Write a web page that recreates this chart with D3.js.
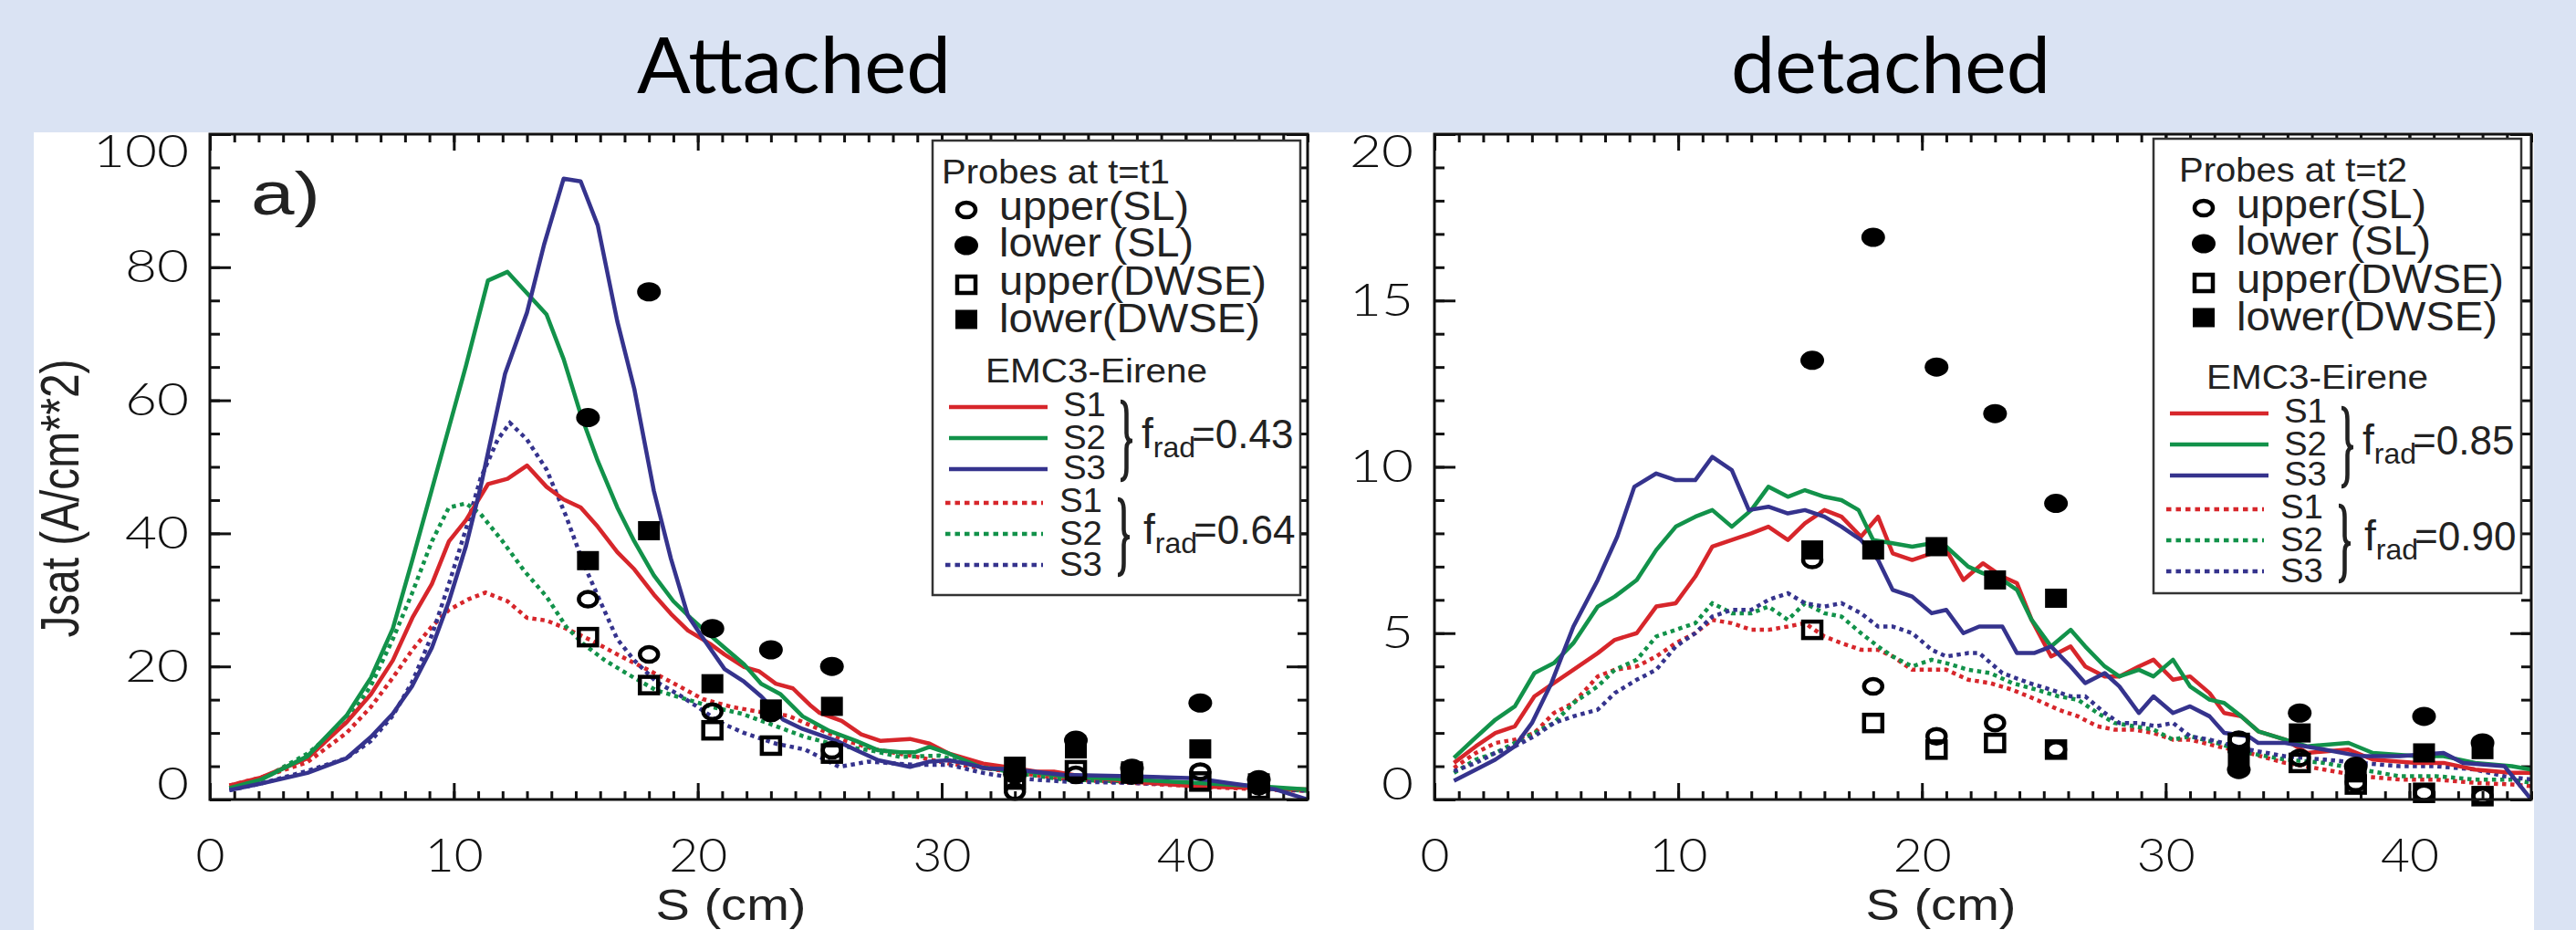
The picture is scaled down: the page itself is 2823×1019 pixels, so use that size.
<!DOCTYPE html>
<html>
<head>
<meta charset="utf-8">
<script src="https://d3js.org/d3.v7.min.js"></script>
<style>
body { margin: 0; background: #dae3f3; }
svg { display: block; }
</style>
</head>
<body>
<svg id="chart" width="2823" height="1019"></svg>
<script>
// ---------- data (S in cm, Jsat in A/cm^2) ----------
const probeS = [15.5, 18.0, 20.6, 23.0, 25.5, 33.0, 35.5, 37.8, 40.6, 43.0];

// attached, probes at t=t1
const attUpperSL   = [30.1, 21.8, 13.2, 13.0, 7.4, 1.2, 3.7, 3.6, 4.2, 2.0];
const attLowerSL   = [57.4, 76.3, 25.7, 22.5, 20.0, 3.8, 8.9, 4.7, 14.5, 3.0];
const attUpperDWSE = [24.4, 17.2, 10.4, 8.1, 6.9, 3.0, 4.4, 3.9, 2.7, 1.5];
const attLowerDWSE = [35.9, 40.4, 17.4, 13.6, 14.0, 5.0, 7.6, 4.3, 7.6, 2.5];

// detached, probes at t=t2
const detUpperSL   = [7.2, 3.4, 1.9, 2.3, 1.5, 1.8, 1.25, 0.5, 0.2, 0.1];
const detLowerSL   = [13.2, 16.9, 13.0, 11.6, 8.9, 0.9, 2.6, 1.0, 2.5, 1.7];
const detUpperDWSE = [5.1, 2.3, 1.5, 1.7, 1.5, 1.7, 1.1, 0.45, 0.2, 0.1];
const detLowerDWSE = [7.5, 7.5, 7.6, 6.6, 6.05, 1.3, 2.0, 0.8, 1.4, 1.5];

// EMC3-Eirene, attached: solid f_rad=0.43, dotted f_rad=0.64
const attS1 = [[0.8,2.1],[2.1,3.3],[4.0,6.2],[5.6,11.6],[6.6,15.8],[7.5,20.9],[8.3,27.3],[9.1,32.4],[9.8,38.8],[10.5,42],[11.4,47.4],[12.2,48.2],[13.0,50.2],[13.8,47],[14.5,45.1],[15.2,43.9],[15.9,41],[16.7,37.2],[17.4,34.6],[18.2,30.8],[18.9,27.9],[19.6,25.4],[20.5,23.4],[21.1,21.8],[21.9,19.9],[22.5,19.3],[23.2,17.4],[23.9,16.7],[24.6,14.2],[25.0,13.0],[25.9,11.8],[26.7,9.8],[27.5,8.8],[28.7,9.1],[29.5,8.4],[30.3,6.9],[31.7,5.4],[33.0,4.7],[33.9,4.2],[34.6,4.2],[35.7,3.5],[37.7,2.7],[40.4,2.0],[43.0,1.7],[45.0,1.5]];
const attS2 = [[0.8,1.7],[2.1,3.0],[4.0,6.5],[5.6,12.6],[6.6,18.3],[7.5,25.7],[8.3,36],[9.1,46.6],[9.8,55.9],[10.5,65.2],[11.4,78],[12.2,79.3],[13.0,76.1],[13.8,72.9],[14.5,66.2],[15.2,57.9],[15.9,50.9],[16.7,43.9],[17.4,38.8],[18.2,33.7],[19.0,29.8],[19.7,27.3],[20.5,24.7],[21.1,22.8],[21.9,20.3],[22.6,17.4],[23.4,15.8],[24.3,12.5],[25.4,10.3],[26.5,8.8],[27.4,7.4],[28.3,7.1],[28.9,7.1],[29.5,7.9],[30.3,6.9],[31.7,4.7],[33.0,4.5],[35.0,3.5],[37.7,3.0],[40.4,2.5],[43.0,2.0],[45.0,1.5]];
const attS3 = [[0.8,1.4],[2.1,2.4],[4.0,4.0],[5.6,6.2],[6.6,9.4],[7.5,12.9],[8.3,17.1],[9.1,22.8],[9.8,29.8],[10.5,38.1],[11.1,47],[12.1,64],[13.0,73.2],[13.7,83.4],[14.5,93.3],[15.2,92.9],[15.9,86.3],[16.7,71.9],[17.4,61.7],[18.2,46.4],[18.9,36.2],[19.6,27.6],[20.3,23.8],[21.1,19.6],[21.9,17.7],[22.6,15.5],[23.5,12.0],[24.3,10.6],[25.7,8.8],[26.5,7.4],[27.4,5.9],[28.7,4.9],[29.5,5.7],[30.3,5.9],[31.0,5.4],[31.8,4.7],[33.0,4.5],[35.0,3.7],[37.7,3.5],[40.4,3.2],[41.7,2.5],[43.7,1.5],[45.0,0]];
const attD1 = [[0.8,2.1],[2.1,3.3],[4.0,5.6],[5.6,10.0],[6.6,13.9],[7.5,18.3],[8.3,22.5],[9.1,26],[9.8,28.5],[10.6,30.1],[11.3,31.1],[12.2,29.8],[13.0,27.3],[13.8,26.9],[14.6,25.7],[15.7,23.8],[16.7,21.8],[17.9,19.6],[19.2,17.1],[20.2,15.1],[21.4,13.9],[22.5,13.2],[23.7,12.6],[24.9,10.7],[26.1,8.8],[27.2,7.6],[29.0,6.4],[30.3,5.4],[33.0,4.1],[35.0,3.1],[37.7,2.5],[40.4,2.0],[43.0,1.5],[45.0,1.3]];
const attD2 = [[0.8,1.7],[2.1,3.0],[4.0,6.9],[5.6,11.6],[6.6,17.1],[7.5,24.1],[8.3,31.1],[9.1,38.8],[9.8,43.9],[10.5,44.5],[11.1,42.9],[12.0,38.8],[12.9,34.3],[13.8,30.5],[14.6,26],[15.3,23.4],[16.2,20.9],[17.2,18.7],[18.3,16.4],[19.5,15.1],[20.6,13.9],[21.8,12.9],[23.0,11.3],[24.4,9.4],[25.8,8.1],[27.2,7.3],[28.3,6.4],[29.9,6.6],[31.0,5.4],[33.0,4.0],[35.0,3.0],[37.7,2.7],[40.4,2.2],[43.0,1.7],[45.0,1.3]];
const attD3 = [[0.8,1.4],[2.1,2.4],[4.0,4.3],[5.6,6.2],[6.6,8.8],[7.5,12.6],[8.3,17.7],[9.1,24.7],[9.8,32.4],[10.5,40.7],[11.1,48.3],[11.8,54.1],[12.3,56.6],[13.0,54.1],[13.8,49.6],[14.6,42.6],[15.3,35.6],[16.0,29.8],[16.7,24.1],[17.4,20.9],[18.3,17.7],[19.2,15.8],[20.0,13.9],[20.9,11.6],[21.9,10.0],[23.2,8.4],[24.4,7.5],[25.8,4.9],[27.0,5.7],[28.9,5.2],[30.3,5.2],[31.7,4.0],[33.0,3.2],[35.0,2.7],[37.7,2.5],[40.4,2.2],[43.0,1.7],[45.0,1.3]];

// EMC3-Eirene, detached: solid f_rad=0.85, dotted f_rad=0.90
const detS1 = [[0.8,1.1],[1.7,1.6],[2.5,2.0],[3.3,2.2],[4.1,3.1],[4.9,3.5],[5.7,3.9],[6.7,4.4],[7.4,4.8],[8.3,5.0],[9.1,5.8],[9.9,5.9],[10.7,6.7],[11.4,7.6],[12.2,7.8],[13.0,8.0],[13.7,8.2],[14.5,7.8],[15.2,8.3],[16.0,8.7],[16.7,8.5],[17.5,7.9],[18.2,8.5],[18.8,7.4],[19.6,7.2],[20.4,7.4],[21.0,7.5],[21.7,6.6],[22.5,7.1],[23.3,6.7],[23.9,6.5],[24.5,5.4],[25.3,4.3],[26.1,4.6],[26.7,4.0],[27.5,3.7],[28.1,3.7],[28.9,4.0],[29.5,4.2],[30.3,3.6],[31.0,3.7],[31.8,3.2],[32.4,2.6],[33.1,2.5],[33.8,2.05],[34.9,1.8],[35.8,1.4],[37.5,1.5],[38.5,1.2],[40.3,1.1],[41.4,1.1],[42.7,0.9],[44.2,0.8],[45.0,0.8]];
const detS2 = [[0.8,1.25],[1.6,1.8],[2.5,2.4],[3.3,2.8],[4.1,3.8],[4.9,4.1],[5.7,4.7],[6.7,5.8],[7.4,6.1],[8.3,6.6],[9.1,7.5],[9.9,8.2],[10.7,8.5],[11.4,8.7],[12.2,8.2],[13.0,8.7],[13.7,9.4],[14.5,9.1],[15.2,9.3],[16.0,9.1],[16.7,9.0],[17.4,8.7],[18.0,7.8],[18.8,7.7],[19.6,7.6],[20.4,7.7],[21.0,7.6],[21.9,7.0],[22.5,6.8],[23.3,6.6],[23.9,6.3],[24.5,5.4],[25.3,4.6],[26.1,5.1],[26.7,4.6],[27.5,4.0],[28.1,3.7],[28.9,3.9],[29.5,3.7],[30.3,4.2],[31.0,3.4],[31.8,3.0],[32.4,2.9],[33.1,2.5],[33.8,2.05],[34.9,1.8],[35.8,1.6],[37.5,1.7],[38.5,1.4],[40.3,1.3],[41.4,1.3],[42.7,1.1],[44.2,1.0],[45.0,0.9]];
const detS3 = [[0.8,0.56],[1.7,0.9],[2.5,1.2],[3.3,1.6],[4.0,2.3],[4.8,3.5],[5.7,5.2],[6.7,6.6],[7.5,7.9],[8.2,9.4],[9.1,9.8],[9.9,9.6],[10.7,9.6],[11.4,10.3],[12.2,9.9],[12.9,8.7],[13.7,8.8],[14.5,8.6],[15.2,8.7],[16.0,8.5],[16.7,8.2],[17.5,7.8],[18.2,7.2],[18.8,6.3],[19.6,6.1],[20.4,5.6],[21.0,5.7],[21.7,5.0],[22.35,5.2],[23.3,5.2],[23.9,4.4],[24.6,4.4],[25.3,4.6],[26.1,4.0],[26.7,3.5],[27.5,3.8],[28.1,3.4],[28.9,2.6],[29.5,3.1],[30.3,2.6],[31.0,2.8],[31.8,2.5],[32.4,2.0],[33.4,1.9],[33.8,1.7],[34.9,1.7],[36.5,1.5],[38.0,1.3],[39.6,1.3],[41.4,1.4],[42.2,1.1],[43.9,1.0],[45.0,0]];
const detD1 = [[0.8,0.95],[1.7,1.4],[2.5,1.7],[3.3,1.8],[4.1,2.0],[4.9,2.6],[5.7,2.9],[6.7,3.7],[7.4,3.9],[8.3,4.0],[9.1,4.3],[9.9,4.7],[10.7,5.0],[11.4,5.4],[12.2,5.3],[13.0,5.1],[13.7,5.1],[14.5,5.2],[15.2,5.3],[16.0,4.9],[16.7,4.7],[17.5,4.5],[18.2,4.5],[18.8,4.3],[19.6,3.9],[20.4,3.9],[21.0,3.9],[21.9,3.6],[22.8,3.5],[23.7,3.3],[24.7,3.0],[25.6,2.7],[26.4,2.5],[27.2,2.2],[27.9,2.1],[28.7,2.1],[29.5,2.0],[30.3,1.8],[31.0,1.8],[32.1,1.6],[33.4,1.4],[34.9,1.1],[36.5,0.9],[38.0,0.7],[39.6,0.6],[41.1,0.6],[42.7,0.5],[44.2,0.45],[45.0,0.4]];
const detD2 = [[0.8,0.8],[1.7,1.2],[2.5,1.4],[3.3,1.7],[4.1,2.0],[4.9,2.3],[5.7,2.9],[6.7,3.4],[7.4,3.9],[8.3,4.2],[9.1,4.9],[9.9,5.1],[10.7,5.3],[11.4,5.9],[12.2,5.6],[13.0,5.6],[13.7,5.8],[14.5,5.4],[15.2,5.9],[16.0,5.6],[16.7,5.5],[17.5,5.0],[18.2,4.6],[18.8,4.3],[19.6,4.0],[20.4,4.2],[21.0,4.1],[21.9,3.9],[22.8,3.8],[23.7,3.5],[24.7,3.3],[25.6,3.1],[26.4,3.0],[27.2,2.6],[27.9,2.3],[28.7,2.2],[29.5,2.1],[30.3,1.8],[31.0,1.9],[32.1,1.7],[33.4,1.4],[34.9,1.2],[36.5,1.1],[38.0,0.9],[39.6,0.7],[41.1,0.7],[42.7,0.6],[44.2,0.6],[45.0,0.5]];
const detD3 = [[0.8,0.85],[1.7,1.1],[2.5,1.4],[3.3,1.6],[4.1,1.9],[4.9,2.3],[5.7,2.5],[6.7,2.7],[7.4,3.2],[8.3,3.6],[9.1,3.9],[9.9,4.6],[10.7,5.0],[11.4,5.5],[12.2,5.7],[13.0,5.7],[13.7,6.0],[14.5,6.2],[15.2,5.9],[16.0,5.8],[16.7,5.9],[17.5,5.6],[18.2,5.2],[18.8,5.2],[19.6,5.0],[20.4,4.5],[21.0,4.3],[21.9,4.4],[22.35,4.4],[23.3,3.8],[24.4,3.5],[25.3,3.3],[26.1,3.1],[26.7,3.1],[27.5,2.6],[28.1,2.3],[28.9,2.3],[29.6,2.2],[30.3,2.3],[31.0,1.9],[31.8,1.8],[33.4,1.5],[34.9,1.3],[36.5,1.2],[38.0,1.1],[39.6,1.0],[41.1,1.0],[42.7,0.9],[43.9,0.7],[45.0,0.6]];

const xTicks = [0, 10, 20, 30, 40];
const attYTicks = [0, 20, 40, 60, 80, 100];
const detYTicks = [0, 5, 10, 15, 20];

// ---------- drawing ----------
const colors = { S1: "#d7262b", S2: "#12924a", S3: "#35338d" };
const tickFont = "Lato, 'DejaVu Sans', sans-serif";
const textFont = "'Liberation Sans', Arial, sans-serif";

const svg = d3.select("#chart");

svg.append("rect").attr("x", 37).attr("y", 145).attr("width", 2740).attr("height", 874).attr("fill", "#fff");

// titles
svg.append("text").text("Attached").attr("x", 870).attr("y", 102)
  .attr("text-anchor", "middle").attr("font-family", "Lato, 'Open Sans', sans-serif")
  .attr("font-size", 86).attr("textLength", 344).attr("lengthAdjust", "spacingAndGlyphs");
svg.append("text").text("detached").attr("x", 2072).attr("y", 102)
  .attr("text-anchor", "middle").attr("font-family", "Lato, 'Open Sans', sans-serif")
  .attr("font-size", 86).attr("textLength", 350).attr("lengthAdjust", "spacingAndGlyphs");

const panels = [
  { id: "att", left: 230, right: 1433, top: 147, bottom: 876, ymax: 100, yTicks: attYTicks, yMinor: 5,
    solid: [attS1, attS2, attS3], dotted: [attD1, attD2, attD3],
    probes: { upperSL: attUpperSL, lowerSL: attLowerSL, upperDWSE: attUpperDWSE, lowerDWSE: attLowerDWSE },
    legend: { bx: 1022, by: 154, title: "Probes at t=t1", f1: "0.43", f2: "0.64", sh: 0, vs: 0 },
    xlabX: 801 },
  { id: "det", left: 1572, right: 2774, top: 147, bottom: 876, ymax: 20, yTicks: detYTicks, yMinor: 1,
    solid: [detS1, detS2, detS3], dotted: [detD1, detD2, detD3],
    probes: { upperSL: detUpperSL, lowerSL: detLowerSL, upperDWSE: detUpperDWSE, lowerDWSE: detLowerDWSE },
    legend: { bx: 2360, by: 152, title: "Probes at t=t2", f1: "0.85", f2: "0.90", sh: 18, vs: 9 },
    xlabX: 2127 }
];

function drawMarker(g, type, cx, cy) {
  if (type === "upperSL") {
    g.append("ellipse").attr("cx", cx).attr("cy", cy).attr("rx", 10).attr("ry", 8)
      .attr("fill", "none").attr("stroke", "#000").attr("stroke-width", 4.5);
  } else if (type === "lowerSL") {
    g.append("ellipse").attr("cx", cx).attr("cy", cy).attr("rx", 13).attr("ry", 10.5).attr("fill", "#000");
  } else if (type === "upperDWSE") {
    g.append("rect").attr("x", cx - 10).attr("y", cy - 9).attr("width", 20).attr("height", 18)
      .attr("fill", "none").attr("stroke", "#000").attr("stroke-width", 4.5);
  } else {
    g.append("rect").attr("x", cx - 12).attr("y", cy - 10.5).attr("width", 24).attr("height", 21).attr("fill", "#000");
  }
}

function brace(x, y0, y1, w) {
  const h = y1 - y0, m = (y0 + y1) / 2, xm = x + w / 2;
  return `M${x},${y0} Q${xm},${y0} ${xm},${y0 + h * 0.15} L${xm},${m - h * 0.1} Q${xm},${m} ${x + w},${m}` +
         ` Q${xm},${m} ${xm},${m + h * 0.1} L${xm},${y1 - h * 0.15} Q${xm},${y1} ${x},${y1}`;
}

panels.forEach(p => {
  const x = d3.scaleLinear().domain([0, 45]).range([p.left, p.right]);
  const y = d3.scaleLinear().domain([0, p.ymax]).range([p.bottom, p.top]);
  const g = svg.append("g");

  g.append("clipPath").attr("id", "clip-" + p.id).append("rect")
    .attr("x", p.left).attr("y", p.top).attr("width", p.right - p.left).attr("height", p.bottom - p.top);

  // axes: inward ticks on all four sides
  const styleAxis = sel => {
    sel.select(".domain").remove();
    sel.selectAll(".tick line").attr("stroke", "#111").attr("stroke-width", 3);
  };
  const yMax = p.ymax;
  g.append("g").attr("transform", `translate(0,${p.bottom})`)
    .call(d3.axisBottom(x).tickValues(d3.range(0, 46, 1)).tickSize(-9).tickFormat("")).call(styleAxis);
  g.append("g").attr("transform", `translate(0,${p.bottom})`)
    .call(d3.axisBottom(x).tickValues(xTicks).tickSize(-18).tickPadding(42).tickFormat(d3.format("d")))
    .call(styleAxis)
    .call(a => a.selectAll("text").attr("font-family", tickFont).attr("font-weight", 300)
      .attr("font-size", 52).attr("fill", "#111")
      .attr("textLength", d => String(d).length * 32).attr("lengthAdjust", "spacingAndGlyphs"));
  g.append("g").attr("transform", `translate(0,${p.top})`)
    .call(d3.axisTop(x).tickValues(d3.range(0, 46, 1)).tickSize(-9).tickFormat("")).call(styleAxis);
  g.append("g").attr("transform", `translate(0,${p.top})`)
    .call(d3.axisTop(x).tickValues(xTicks).tickSize(-18).tickFormat("")).call(styleAxis);

  g.append("g").attr("transform", `translate(${p.left},0)`)
    .call(d3.axisLeft(y).tickValues(d3.range(0, yMax + 0.1, p.yMinor)).tickSize(-11).tickFormat("")).call(styleAxis);
  g.append("g").attr("transform", `translate(${p.left},0)`)
    .call(d3.axisLeft(y).tickValues(p.yTicks).tickSize(-23).tickPadding(23).tickFormat(d3.format("d")))
    .call(styleAxis)
    .call(a => a.selectAll("text").attr("font-family", tickFont).attr("font-weight", 300)
      .attr("font-size", 50).attr("fill", "#111")
      .attr("textLength", d => String(d).length * 35).attr("lengthAdjust", "spacingAndGlyphs")
      .attr("transform", d => d === yMax ? "translate(0,19)" : d === 0 ? "translate(0,-17)" : null));
  g.append("g").attr("transform", `translate(${p.right},0)`)
    .call(d3.axisRight(y).tickValues(d3.range(0, yMax + 0.1, p.yMinor)).tickSize(-11).tickFormat("")).call(styleAxis);
  g.append("g").attr("transform", `translate(${p.right},0)`)
    .call(d3.axisRight(y).tickValues(p.yTicks).tickSize(-23).tickFormat("")).call(styleAxis);

  // model curves
  const line = d3.line().x(d => x(d[0])).y(d => y(d[1]));
  const lines = g.append("g").attr("clip-path", `url(#clip-${p.id})`);
  const keys = ["S1", "S2", "S3"];
  p.dotted.forEach((d, i) => {
    lines.append("path").attr("d", line(d)).attr("fill", "none").attr("stroke", colors[keys[i]])
      .attr("stroke-width", 4.5).attr("stroke-dasharray", "4.5,4.5");
  });
  p.solid.forEach((d, i) => {
    lines.append("path").attr("d", line(d)).attr("fill", "none").attr("stroke", colors[keys[i]])
      .attr("stroke-width", 4.5).attr("stroke-linejoin", "round");
  });

  // probe data
  const mk = g.append("g");
  ["upperDWSE", "upperSL", "lowerDWSE", "lowerSL"].forEach(type => {
    p.probes[type].forEach((v, i) => drawMarker(mk, type, x(probeS[i]), y(v)));
  });

  // frame
  g.append("rect").attr("x", p.left).attr("y", p.top).attr("width", p.right - p.left)
    .attr("height", p.bottom - p.top).attr("fill", "none").attr("stroke", "#111").attr("stroke-width", 3);

  // x axis title
  g.append("text").text("S (cm)").attr("x", p.xlabX).attr("y", 1008).attr("text-anchor", "middle")
    .attr("font-family", textFont).attr("font-size", 48).attr("fill", "#222")
    .attr("textLength", 165).attr("lengthAdjust", "spacingAndGlyphs");

  // legend
  const L = p.legend, bx = L.bx, by = L.by, sh = L.sh, vs = L.vs;
  const lg = g.append("g");
  lg.append("rect").attr("x", bx).attr("y", by).attr("width", 403).attr("height", 498)
    .attr("fill", "#fff").attr("stroke", "#333").attr("stroke-width", 2.5);
  const txt = (s, tx, ty, size, len) => {
    const t = lg.append("text").text(s).attr("x", tx).attr("y", ty)
      .attr("font-family", textFont).attr("font-size", size).attr("fill", "#222");
    if (len) t.attr("textLength", len).attr("lengthAdjust", "spacingAndGlyphs");
    return t;
  };
  txt(L.title, bx + 10 + sh, by + 47, 36, 250);
  const entries = [
    { type: "upperSL", label: "upper(SL)", my: 76, base: 87, len: 208 },
    { type: "lowerSL", label: "lower (SL)", my: 115, base: 127, len: 213 },
    { type: "upperDWSE", label: "upper(DWSE)", my: 158, base: 169, len: 293 },
    { type: "lowerDWSE", label: "lower(DWSE)", my: 196, base: 210, len: 286 }
  ];
  entries.forEach(e => {
    drawMarker(lg, e.type, bx + 37 + sh, by + e.my);
    txt(e.label, bx + 73 + sh, by + e.base, 44, e.len);
  });
  txt("EMC3-Eirene", bx + 58, by + 265 + vs, 36, 243);
  const solidY = [292, 326, 360], dotY = [397, 431, 465];
  const solidLab = [302, 338, 371], dotLab = [407, 443, 477];
  keys.forEach((k, i) => {
    lg.append("line").attr("x1", bx + 18).attr("x2", bx + 126).attr("y1", by + solidY[i] + vs).attr("y2", by + solidY[i] + vs)
      .attr("stroke", colors[k]).attr("stroke-width", 4.5);
    txt(k, bx + 143, by + solidLab[i] + vs, 36, 47);
    lg.append("line").attr("x1", bx + 14).attr("x2", bx + 121).attr("y1", by + dotY[i] + vs).attr("y2", by + dotY[i] + vs)
      .attr("stroke", colors[k]).attr("stroke-width", 4.5).attr("stroke-dasharray", "5.5,5");
    txt(k, bx + 139, by + dotLab[i] + vs, 36, 47);
  });
  lg.append("path").attr("d", brace(bx + 206, by + 286 + vs, by + 372 + vs, 13))
    .attr("fill", "none").attr("stroke", "#222").attr("stroke-width", 4.5);
  lg.append("path").attr("d", brace(bx + 203, by + 393 + vs, by + 476 + vs, 13))
    .attr("fill", "none").attr("stroke", "#222").attr("stroke-width", 4.5);
  [[L.f1, by + 337 + vs, 229], [L.f2, by + 442 + vs, 231]].forEach(([f, ty, fx]) => {
    const t = lg.append("text").attr("x", bx + fx).attr("y", ty)
      .attr("font-family", textFont).attr("fill", "#222");
    t.append("tspan").text("f").attr("font-size", 46);
    t.append("tspan").text("rad").attr("font-size", 32).attr("dy", 10);
    t.append("tspan").text("=" + f).attr("font-size", 44).attr("dy", -10).attr("dx", -4);
  });
});

// panel label and y axis title (left panel only)
svg.append("text").text("a)").attr("x", 275).attr("y", 235)
  .attr("font-family", textFont).attr("font-size", 66).attr("fill", "#222")
  .attr("textLength", 76).attr("lengthAdjust", "spacingAndGlyphs");
svg.append("text").text("Jsat (A/cm**2)")
  .attr("transform", "translate(86,546) rotate(-90)").attr("text-anchor", "middle")
  .attr("font-family", textFont).attr("font-size", 60).attr("fill", "#222")
  .attr("textLength", 305).attr("lengthAdjust", "spacingAndGlyphs");
</script>
</body>
</html>
